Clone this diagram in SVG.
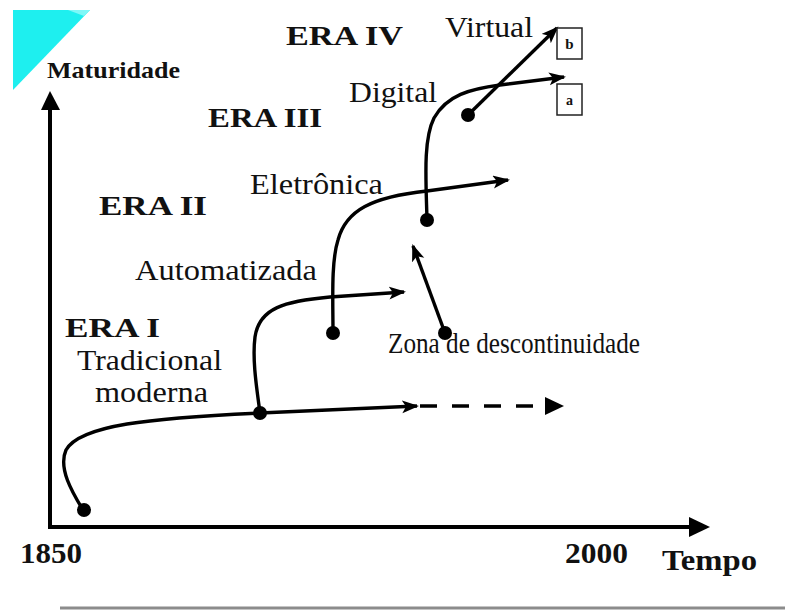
<svg xmlns="http://www.w3.org/2000/svg" width="785" height="612" viewBox="0 0 785 612">
<style>
text{font-family:'Liberation Serif','Times New Roman',Times,serif;fill:#111}
.lbl{font-size:29px}
.era{font-size:28px;font-weight:bold}
.ax{font-weight:bold}
.crv{fill:none;stroke:#000;stroke-width:3.4}
.dot{fill:#000}
.box{fill:#fff;stroke:#222;stroke-width:1.5}
</style>
<defs>
<marker id="ah" markerUnits="userSpaceOnUse" markerWidth="18" markerHeight="14" refX="15" refY="6.5" orient="auto">
<path d="M0,0 L17,6.5 L0,13 L4,6.5 z" fill="#000"/>
</marker>
</defs>
<polygon points="13,10 90,10 13,90" fill="#1EEFEF"/>
<polygon points="68,10 90,10 84,16" fill="#7FF7F7"/>
<g id="axes">
<line x1="50" y1="528" x2="50" y2="106" stroke="#000" stroke-width="4"/>
<polygon points="50,91 41,110 60,110" fill="#000"/>
<line x1="48" y1="527" x2="692" y2="527" stroke="#000" stroke-width="4"/>
<polygon points="710,527 689,517 689,537" fill="#000"/>
<text class="ax" x="47" y="78" font-size="23" textLength="133" lengthAdjust="spacingAndGlyphs">Maturidade</text>
<text class="ax" x="20" y="563" font-size="29" textLength="62" lengthAdjust="spacingAndGlyphs">1850</text>
<text class="ax" x="565" y="563" font-size="29" textLength="63" lengthAdjust="spacingAndGlyphs">2000</text>
<text class="ax" x="662" y="570" font-size="29" textLength="95" lengthAdjust="spacingAndGlyphs">Tempo</text>
</g>
<line x1="60" y1="608" x2="785" y2="608" stroke="#8c8c8c" stroke-width="3"/>
<g id="connectors">
<path class="crv" d="M83,510 C72,492 58,468 66,450 C80,425 150,418 260,413 C330,410 380,408 417,406" marker-end="url(#ah)"/>
<line x1="420" y1="406" x2="545" y2="406" stroke="#000" stroke-width="3.4" stroke-dasharray="17,15"/>
<polygon points="545,397 564,406 545,415" fill="#000"/>
<path class="crv" d="M260,413 C257,390 252,360 255,337 C259,308 285,301 330,297 L404,292" marker-end="url(#ah)"/>
<path class="crv" d="M333,333 C333,300 331,262 338,240 C346,210 372,197 427,191 L508,180" marker-end="url(#ah)"/>
<path class="crv" d="M427,220 C426,180 423,140 434,118 C447,95 470,89 500,85 L564,77" marker-end="url(#ah)"/>
<line class="crv" x1="468" y1="115" x2="557" y2="28" marker-end="url(#ah)"/>
<line class="crv" x1="445" y1="333" x2="413" y2="246" marker-end="url(#ah)"/>
</g>
<g id="dots">
<circle class="dot" cx="84" cy="510" r="7"/>
<circle class="dot" cx="260" cy="413" r="7"/>
<circle class="dot" cx="333" cy="333" r="7"/>
<circle class="dot" cx="427" cy="220" r="7"/>
<circle class="dot" cx="468" cy="115" r="7"/>
<circle class="dot" cx="445" cy="333" r="7"/>
</g>
<g id="box-b"><rect class="box" x="557" y="28" width="25" height="31"/><text class="ax" x="569.5" y="49" font-size="15" text-anchor="middle">b</text></g>
<g id="box-a"><rect class="box" x="557" y="84" width="25" height="31"/><text class="ax" x="569.5" y="105" font-size="14" text-anchor="middle">a</text></g>
<g id="labels">
<text class="era" x="286" y="45" textLength="117" lengthAdjust="spacingAndGlyphs">ERA IV</text>
<text class="lbl" x="445" y="37" textLength="88" lengthAdjust="spacingAndGlyphs">Virtual</text>
<text class="lbl" x="349" y="102" textLength="88" lengthAdjust="spacingAndGlyphs">Digital</text>
<text class="era" x="208" y="127" textLength="114" lengthAdjust="spacingAndGlyphs">ERA III</text>
<text class="lbl" x="250" y="194" textLength="133" lengthAdjust="spacingAndGlyphs">Eletrônica</text>
<text class="era" x="99" y="215" textLength="108" lengthAdjust="spacingAndGlyphs">ERA II</text>
<text class="lbl" x="135" y="280" textLength="182" lengthAdjust="spacingAndGlyphs">Automatizada</text>
<text class="era" x="65" y="337" textLength="95" lengthAdjust="spacingAndGlyphs">ERA I</text>
<text class="lbl" x="77" y="370" textLength="145" lengthAdjust="spacingAndGlyphs">Tradicional</text>
<text class="lbl" x="95" y="402" textLength="113" lengthAdjust="spacingAndGlyphs">moderna</text>
<text class="lbl" x="388" y="353" font-size="22" textLength="252" lengthAdjust="spacingAndGlyphs">Zona de descontinuidade</text>
</g>
</svg>
